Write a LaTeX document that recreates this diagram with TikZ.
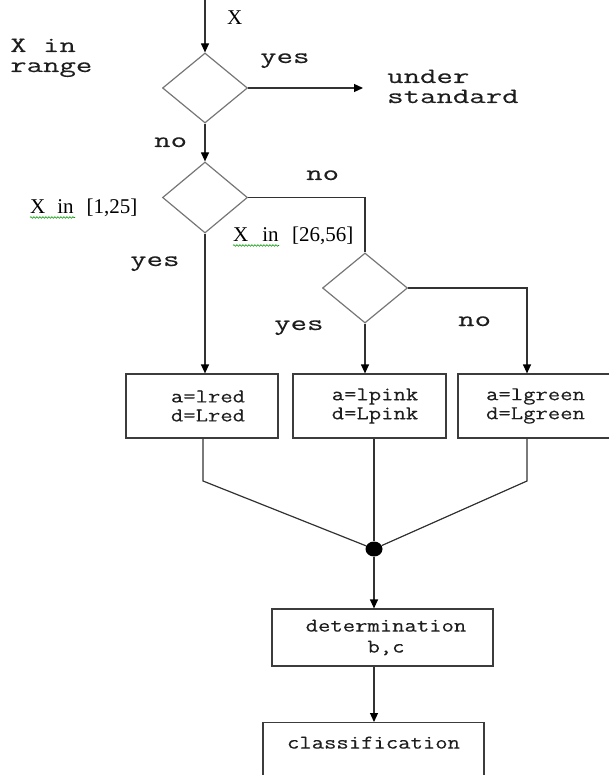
\documentclass[tikz,border=0pt]{standalone}
\usepackage{fontspec}
\setmainfont{Liberation Serif}
\newfontfamily\monowide[FakeStretch=1.45,FakeBold=0.2]{Latin Modern Mono}
\newfontfamily\monomid[FakeStretch=1.23,FakeBold=0.2]{Latin Modern Mono}
\usetikzlibrary{shapes.geometric,arrows.meta,decorations.pathmorphing,calc}
\definecolor{diagc}{RGB}{118,118,118}
\definecolor{boxc}{RGB}{60,60,60}
\definecolor{linec}{RGB}{50,50,50}
\definecolor{txtc}{RGB}{30,30,30}
\begin{document}
\begin{tikzpicture}[x=1pt,y=-1pt,
  dec/.style={draw=diagc, line width=1.2pt, shape=diamond, minimum width=85pt, minimum height=70pt, inner sep=0pt},
  box/.style={draw=boxc, line width=1.2pt, rectangle, inner sep=0pt, align=center, text=txtc, font=\monomid\fontsize{19.5}{19}\selectfont},
  lab/.style={anchor=base west, inner sep=0pt, text=txtc, font=\monowide\fontsize{22}{20}\selectfont, align=left},
  slab/.style={anchor=base west, inner sep=0pt, text=black, font=\fontsize{21}{21}\selectfont},
  conn/.style={draw=linec, line width=1.2pt},
  arr/.style={conn, -{Triangle[width=8pt,length=9pt,color=black]}},
  squig/.style={draw=green!60!black, line width=0.6pt, decorate, decoration={snake, amplitude=0.8pt, segment length=3pt}}
]
\useasboundingbox (0,0) rectangle (609,775);

% decisions
\node[dec] (d1) at (205,88) {};
\node[dec, minimum height=71pt] (d2) at (205,197.5) {};
\node[dec] (d3) at (365,288) {};

% boxes
\node[box, minimum width=152pt, minimum height=64pt] (b1) at (202,406) {\hspace*{12pt}a=lred\\\hspace*{12pt}d=Lred};
\node[box, minimum width=153pt, minimum height=64pt] (b2) at (369.5,406) {\hspace*{11pt}a=lpink\\\hspace*{11pt}d=Lpink};
\node[box, minimum width=155pt, minimum height=64pt] (b3) at (535.5,406) {a=lgreen\\d=Lgreen};
\node[box, minimum width=221pt, minimum height=57pt] (b4) at (382.5,637.5) {\hspace*{7pt}determination\\[2pt]\hspace*{7pt}b,c};
\node[box, minimum width=221pt, anchor=north, text height=26pt, text depth=45pt] (b5) at (373.5,722) {classification};

% junction dot
\node[ellipse, fill=black, inner sep=0pt, minimum width=17pt, minimum height=15pt] (dot) at (374,549) {};

% helper coordinates
\coordinate (top) at (205,0);
\coordinate (ustd) at (363,88);
\coordinate (c3) at (527,0);
\coordinate (k1) at (203,481);
\coordinate (k3) at (527,481);

% connectors
\draw[arr] (top) -- (d1.north);
\draw[arr] (d1.east) -- (ustd);
\draw[arr] (d1.south) -- (d2.north);
\draw[conn] (d2.east) -| (d3.north);
\draw[arr] (d2.south) -- (d2.south |- b1.north);
\draw[arr] (d3.south) -- (d3.south |- b2.north);
\draw[arr] (d3.east) -| (c3 |- b3.north);
\draw[conn] (k1 |- b1.south) -- (k1) -- (dot);
\draw[conn] (dot |- b2.south) -- (dot);
\draw[conn] (k3 |- b3.south) -- (k3) -- (dot);
\draw[arr] (dot) -- (dot |- b4.north);
\draw[arr] (dot |- b4.south) -- (dot |- b5.north);

% labels
\node[slab, font=\fontsize{21}{21}\selectfont] (lx) at (227,25) {X};
\node[lab] (lrange) at (10,72) {X in\\range};
\node[lab] (lyes1) at (260,63) {yes};
\node[lab] (lstd) at (387,103) {under\\standard};
\node[lab] (lno1) at (154,147) {no};
\node[lab] (lno2) at (306,180) {no};
\node[slab] (lr1) at (30,214) {X\hspace{12pt}in\hspace{13pt}[1,25]};
\node[slab] (lr2) at (233,242) {X\hspace{14pt}in\hspace{13.5pt}[26,56]};
\node[lab] (lyes2) at (130,266) {yes};
\node[lab] (lyes3) at (274,330) {yes};
\node[lab] (lno3) at (458,326) {no};

% spelling squiggles
\draw[squig] (30,217.5) -- (75,217.5);
\draw[squig] (233,245.5) -- (279,245.5);
\end{tikzpicture}
\end{document}
